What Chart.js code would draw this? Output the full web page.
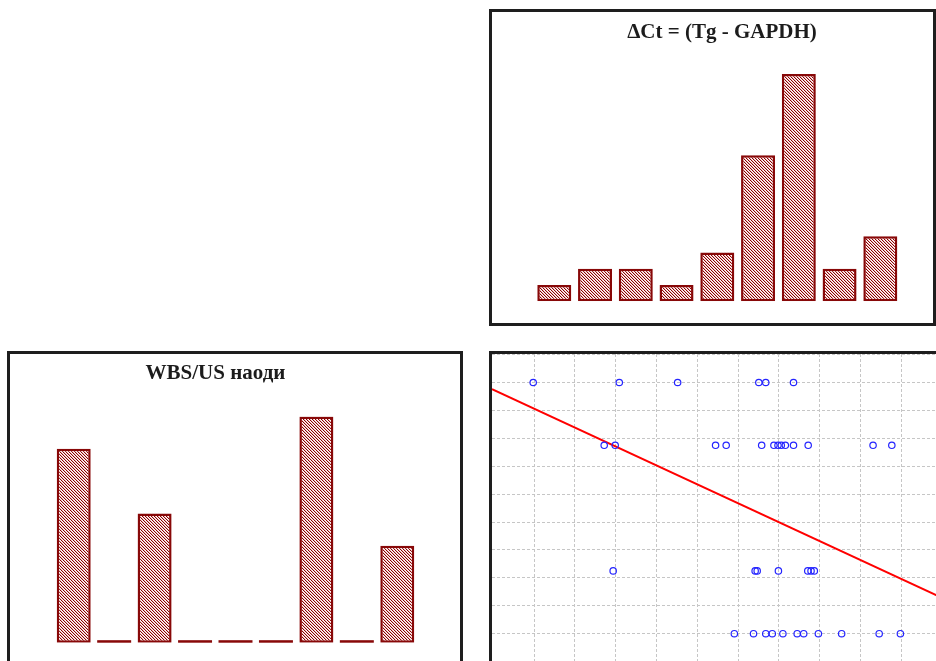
<!DOCTYPE html>
<html>
<head>
<meta charset="utf-8">
<title>ΔCt и WBS/US</title>
<script src="https://cdn.jsdelivr.net/npm/chart.js@4.4.0/dist/chart.umd.min.js"></script>
<style>
  html, body { margin: 0; padding: 0; width: 936px; height: 661px; overflow: hidden; background: #ffffff; }
  canvas { position: absolute; display: block; }
  .frame { position: absolute; box-sizing: border-box; border: 3px solid #1e1e1e; pointer-events: none; z-index: 2; }
</style>
</head>
<body>
<canvas id="ctChart" width="441" height="311" style="left:492px;top:12px;width:441px;height:311px"></canvas>
<div class="frame" style="left:489px;top:9px;width:447px;height:317px"></div>

<canvas id="wbsChart" width="450" height="320" style="left:10px;top:354px;width:450px;height:320px"></canvas>
<div class="frame" style="left:7px;top:351px;width:456px;height:400px"></div>

<canvas id="corrChart" width="470" height="320" style="left:492px;top:354px;width:470px;height:320px"></canvas>
<div class="frame" style="left:489px;top:351px;width:500px;height:400px"></div>

<script>
// ΔCt histogram: frequency per ΔCt interval
const ctBins = ['1–2', '2–3', '3–4', '4–5', '5–6', '6–7', '7–8', '8–9', '9–10'];
const ctCounts = [1, 2, 2, 1, 3, 9, 14, 2, 4];

// WBS/US findings histogram
const wbsBins = ['1', '2', '3', '4', '5', '6', '7', '8', '9'];
const wbsCounts = [6, 0, 4, 0, 0, 0, 7, 0, 3];

// ΔCt (x) against WBS/US finding score (y), one entry per patient
const scatterX = [
  0.98, 3.09, 4.52, 6.51, 6.68, 7.36,
  2.72, 2.99, 5.45, 5.71, 6.58, 6.88, 6.98, 7.06, 7.16, 7.36, 7.72, 9.31, 9.77,
  2.94, 6.42, 6.47, 6.99, 7.71, 7.79, 7.87,
  5.91, 6.38, 6.68, 6.84, 7.10, 7.45, 7.61, 7.97, 8.54, 9.46, 9.98
];
const scatterY = [
  4, 4, 4, 4, 4, 4,
  3, 3, 3, 3, 3, 3, 3, 3, 3, 3, 3, 3, 3,
  1, 1, 1, 1, 1, 1, 1,
  0, 0, 0, 0, 0, 0, 0, 0, 0, 0, 0
];

// grid positions of the scatter panel
const xGridTicks = [1, 2, 3, 4, 5, 6, 7, 8, 9, 10, 11];
const yGridTicks = [-1, 0, 1, 2, 3, 4, 5, 6, 7, 8, 9, 10].map(k => k * 4 / 9);

const BAR_EDGE = '#880808';
const TITLE_FONT = { family: "'Liberation Serif', 'Times New Roman', serif", size: 21, weight: 'bold' };

// small repeating tile: dotted diagonal hatch in dark red
function makeHatch() {
  const tile = document.createElement('canvas');
  tile.width = 3; tile.height = 3;
  const g = tile.getContext('2d');
  g.fillStyle = '#ffffff';
  g.fillRect(0, 0, 3, 3);
  for (let i = 0; i < 3; i++) {
    g.fillStyle = '#8b0000';
    g.fillRect(i, i, 1, 1);
    g.fillStyle = '#ebbcbc';
    g.fillRect((i + 1) % 3, i, 1, 1);
  }
  return g.createPattern(tile, 'repeat');
}
const hatch = makeHatch();

// empty bins are drawn as a short line on the baseline
const emptyBinPlugin = {
  id: 'emptyBins',
  afterDatasetsDraw(chart) {
    const ctx = chart.ctx;
    chart.data.datasets.forEach((ds, di) => {
      const meta = chart.getDatasetMeta(di);
      meta.data.forEach((el, i) => {
        if (ds.data[i] === 0) {
          const p = el.getProps(['x', 'base', 'width'], true);
          ctx.save();
          ctx.fillStyle = BAR_EDGE;
          ctx.fillRect(p.x - p.width / 2, p.base - 2.5, p.width, 2.5);
          ctx.restore();
        }
      });
    });
  }
};

function histogramOptions(title, yMax, yPos, yWidth, padding, titlePad) {
  return {
    responsive: false,
    animation: false,
    devicePixelRatio: 1,
    layout: { padding, autoPadding: false },
    plugins: {
      legend: { display: false },
      tooltip: { enabled: false },
      title: {
        display: true,
        text: title,
        color: '#1c1c1c',
        font: TITLE_FONT,
        padding: titlePad
      }
    },
    scales: {
      x: { display: false },
      y: {
        display: true,
        position: yPos,
        min: 0,
        max: yMax,
        ticks: { display: false },
        grid: { display: false, drawTicks: false },
        border: { display: false },
        afterFit(scale) { scale.width = yWidth; }
      }
    }
  };
}

new Chart(document.getElementById('ctChart'), {
  type: 'bar',
  data: {
    labels: ctBins,
    datasets: [{
      data: ctCounts,
      backgroundColor: hatch,
      borderColor: BAR_EDGE,
      borderWidth: 2.5,
      borderSkipped: false,
      barPercentage: 0.834,
      categoryPercentage: 1
    }]
  },
  options: histogramOptions('ΔCt = (Tg - GAPDH)', 14, 'right', 9.4,
    { left: 41.9, right: 22.9, top: 0, bottom: 21.7 },
    { top: 8.2, bottom: 28.6 })
});

new Chart(document.getElementById('wbsChart'), {
  type: 'bar',
  data: {
    labels: wbsBins,
    datasets: [{
      data: wbsCounts,
      backgroundColor: hatch,
      borderColor: BAR_EDGE,
      borderWidth: 2.5,
      borderSkipped: false,
      barPercentage: 0.84,
      categoryPercentage: 1
    }]
  },
  options: histogramOptions('WBS/US наоди', 7, 'left', 40,
    { left: 3.5, right: 42.5, top: 0, bottom: 31.3 },
    { top: 7.4, bottom: 29.8 }),
  plugins: [emptyBinPlugin]
});

// least-squares line of y on x
function fitLine(xs, ys) {
  const n = xs.length;
  const mx = xs.reduce((s, v) => s + v, 0) / n;
  const my = ys.reduce((s, v) => s + v, 0) / n;
  let sxy = 0, sxx = 0;
  for (let i = 0; i < n; i++) {
    sxy += (xs[i] - mx) * (ys[i] - my);
    sxx += (xs[i] - mx) * (xs[i] - mx);
  }
  const slope = sxy / sxx;
  return { slope, intercept: my - slope * mx };
}

const X_MIN = -0.03, X_MAX = 11.49;
const Y_MIN = -0.642, Y_MAX = 4.454;
const fit = fitLine(scatterX, scatterY);
const fitPoints = [X_MIN, X_MAX].map(x => ({ x, y: fit.intercept + fit.slope * x }));

function gridAxis(min, max, ticks, horizontal) {
  return {
    type: 'linear',
    display: true,
    min, max,
    ticks: { display: false },
    grid: { color: '#c6c6c6', lineWidth: 1, drawTicks: false },
    border: { display: false, dash: [3, 2] },
    afterBuildTicks(scale) { scale.ticks = ticks.map(v => ({ value: v })); },
    afterFit(scale) { if (horizontal) scale.height = 0; else scale.width = 0; }
  };
}

new Chart(document.getElementById('corrChart'), {
  type: 'scatter',
  data: {
    datasets: [
      {
        type: 'scatter',
        data: scatterX.map((x, i) => ({ x, y: scatterY[i] })),
        pointStyle: 'circle',
        pointRadius: 3.2,
        pointBorderWidth: 1.2,
        pointBorderColor: '#2424ff',
        pointBackgroundColor: 'rgba(255,255,255,0)'
      },
      {
        type: 'line',
        data: fitPoints,
        borderColor: '#ff0000',
        borderWidth: 2,
        pointRadius: 0,
        fill: false,
        tension: 0
      }
    ]
  },
  options: {
    responsive: false,
    animation: false,
    devicePixelRatio: 1,
    layout: { padding: 0, autoPadding: false },
    plugins: { legend: { display: false }, tooltip: { enabled: false }, title: { display: false } },
    scales: {
      x: gridAxis(X_MIN, X_MAX, xGridTicks, true),
      y: gridAxis(Y_MIN, Y_MAX, yGridTicks, false)
    }
  }
});
</script>
</body>
</html>
